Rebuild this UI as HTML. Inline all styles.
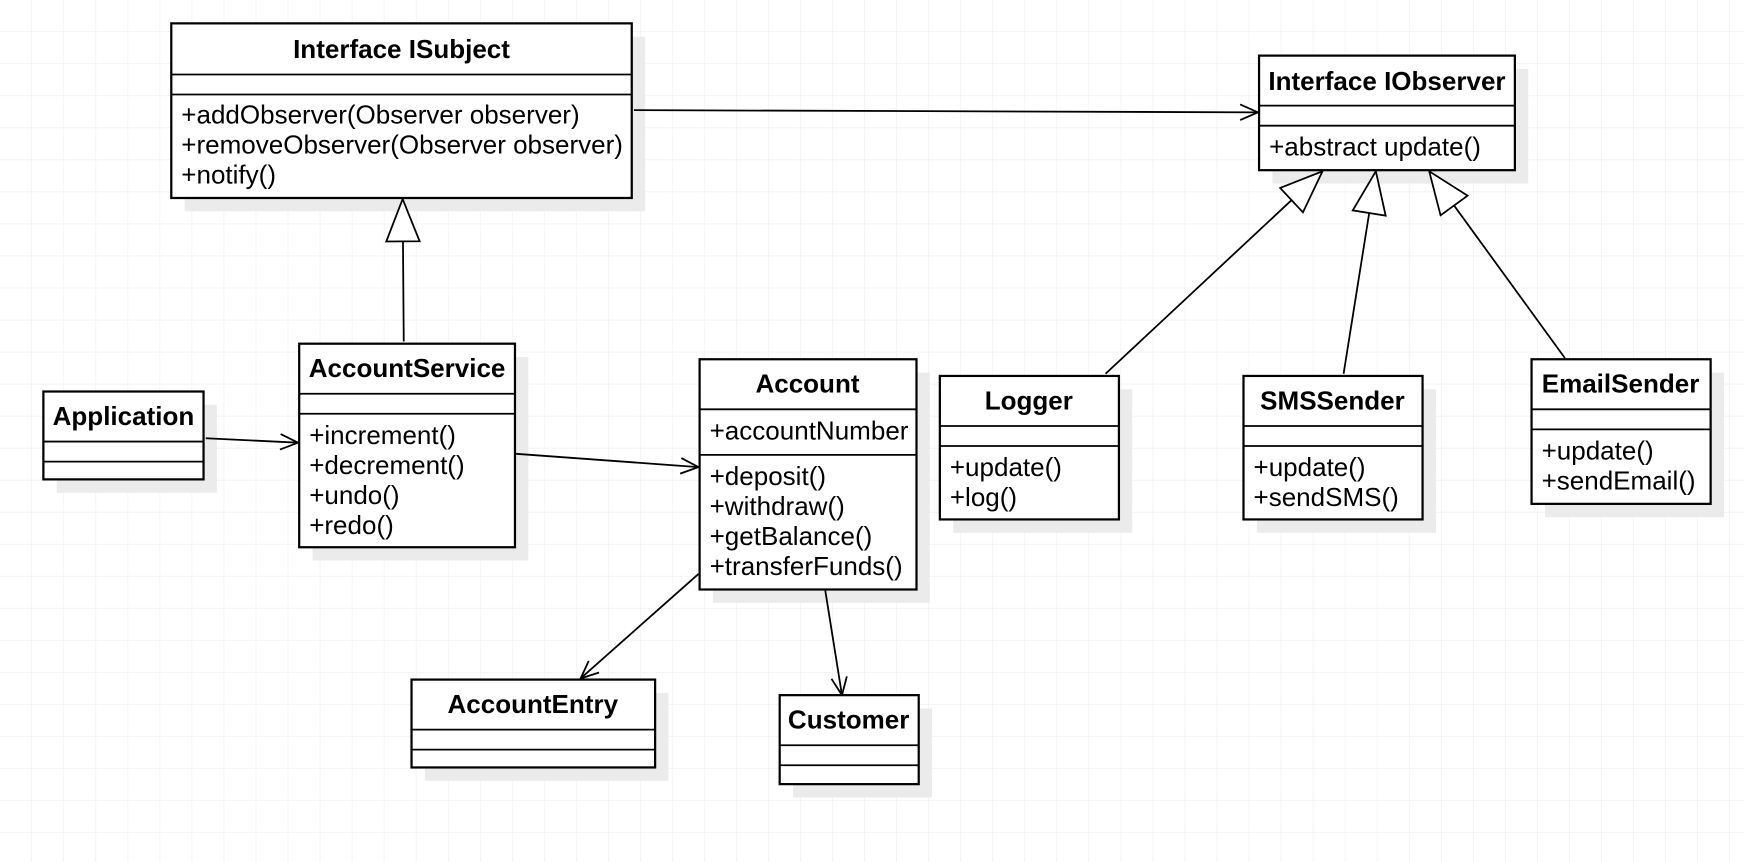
<!DOCTYPE html>
<html><head><meta charset="utf-8"><style>
html,body{margin:0;padding:0;background:#fff;}
svg{display:block;}
text{font-family:"Liberation Sans",Arial,sans-serif;fill:#000;}
.t{font-weight:bold;font-size:23.4px;text-anchor:middle;}
.m{font-size:23.4px;}
.b{fill:#fff;stroke:#000;stroke-width:2;}
.s{fill:#ebebeb;}
.l{stroke:#000;stroke-width:1.6;fill:none;}
</style></head><body>
<svg width="1744" height="862" viewBox="0 0 1568 775" xmlns="http://www.w3.org/2000/svg">
<defs>
<pattern id="g" width="28.8" height="28.8" patternUnits="userSpaceOnUse">
<path d="M28.8 0V28.8M0 28.8H28.8" stroke="#ececec" stroke-width="1" fill="none"/>
</pattern>
<marker id="oa" markerWidth="20" markerHeight="16" refX="17" refY="8" orient="auto" markerUnits="userSpaceOnUse">
<path d="M1 1L17 8L1 15" fill="none" stroke="#000" stroke-width="1.6"/>
</marker>
<marker id="tri" markerWidth="42" markerHeight="34" refX="40" refY="16" orient="auto" markerUnits="userSpaceOnUse">
<path d="M2 1L40 16L2 31Z" fill="#fff" stroke="#000" stroke-width="1.6"/>
</marker>
</defs>
<rect width="1568" height="775" fill="url(#g)"/>

<rect class="s" x="166" y="33" width="414" height="157"/>
<rect class="s" x="1144" y="62" width="230" height="103"/>
<rect class="s" x="51" y="364" width="144" height="79"/>
<rect class="s" x="281" y="321" width="194" height="183"/>
<rect class="s" x="641" y="335" width="195" height="207"/>
<rect class="s" x="857" y="350" width="161" height="129"/>
<rect class="s" x="1130" y="350" width="161" height="129"/>
<rect class="s" x="1389" y="335" width="161" height="130"/>
<rect class="s" x="382" y="623" width="219" height="79"/>
<rect class="s" x="713" y="637" width="125" height="80"/>

<line class="l" x1="570" y1="99" x2="1131" y2="101" marker-end="url(#oa)"/>
<line class="l" x1="363" y1="307" x2="362" y2="179" marker-end="url(#tri)"/>
<line class="l" x1="185" y1="394" x2="268" y2="398" marker-end="url(#oa)"/>
<line class="l" x1="464" y1="408" x2="628" y2="420" marker-end="url(#oa)"/>
<line class="l" x1="628" y1="516" x2="522" y2="610" marker-end="url(#oa)"/>
<line class="l" x1="742" y1="531" x2="757" y2="625" marker-end="url(#oa)"/>
<line class="l" x1="994" y1="336" x2="1189" y2="154" marker-end="url(#tri)"/>
<line class="l" x1="1208" y1="336" x2="1237" y2="154" marker-end="url(#tri)"/>
<line class="l" x1="1407" y1="322" x2="1285" y2="154" marker-end="url(#tri)"/>

<rect class="b" x="154" y="21" width="414" height="157"/>
<line class="l" stroke-width="2" x1="154" y1="67" x2="568" y2="67"/>
<line class="l" stroke-width="2" x1="154" y1="85" x2="568" y2="85"/>
<text class="t" x="361" y="52">Interface ISubject</text>
<text class="m" x="163" y="111">+addObserver(Observer observer)</text>
<text class="m" x="163" y="138">+removeObserver(Observer observer)</text>
<text class="m" x="163" y="165">+notify()</text>

<rect class="b" x="1132" y="50" width="230" height="103"/>
<line class="l" stroke-width="2" x1="1132" y1="95" x2="1362" y2="95"/>
<line class="l" stroke-width="2" x1="1132" y1="113" x2="1362" y2="113"/>
<text class="t" x="1247" y="81">Interface IObserver</text>
<text class="m" x="1141" y="140">+abstract update()</text>

<rect class="b" x="39" y="352" width="144" height="79"/>
<line class="l" stroke-width="2" x1="39" y1="397" x2="183" y2="397"/>
<line class="l" stroke-width="2" x1="39" y1="415" x2="183" y2="415"/>
<text class="t" x="111" y="382">Application</text>

<rect class="b" x="269" y="309" width="194" height="183"/>
<line class="l" stroke-width="2" x1="269" y1="354" x2="463" y2="354"/>
<line class="l" stroke-width="2" x1="269" y1="372" x2="463" y2="372"/>
<text class="t" x="366" y="339">AccountService</text>
<text class="m" x="278" y="399">+increment()</text>
<text class="m" x="278" y="426">+decrement()</text>
<text class="m" x="278" y="453">+undo()</text>
<text class="m" x="278" y="480">+redo()</text>

<rect class="b" x="629" y="323" width="195" height="207"/>
<line class="l" stroke-width="2" x1="629" y1="368" x2="824" y2="368"/>
<line class="l" stroke-width="2" x1="629" y1="409" x2="824" y2="409"/>
<text class="t" x="726" y="353">Account</text>
<text class="m" x="638" y="395">+accountNumber</text>
<text class="m" x="638" y="436">+deposit()</text>
<text class="m" x="638" y="463">+withdraw()</text>
<text class="m" x="638" y="490">+getBalance()</text>
<text class="m" x="638" y="517">+transferFunds()</text>

<rect class="b" x="845" y="338" width="161" height="129"/>
<line class="l" stroke-width="2" x1="845" y1="383" x2="1006" y2="383"/>
<line class="l" stroke-width="2" x1="845" y1="401" x2="1006" y2="401"/>
<text class="t" x="925" y="368">Logger</text>
<text class="m" x="854" y="428">+update()</text>
<text class="m" x="854" y="455">+log()</text>

<rect class="b" x="1118" y="338" width="161" height="129"/>
<line class="l" stroke-width="2" x1="1118" y1="383" x2="1279" y2="383"/>
<line class="l" stroke-width="2" x1="1118" y1="401" x2="1279" y2="401"/>
<text class="t" x="1198" y="368">SMSSender</text>
<text class="m" x="1127" y="428">+update()</text>
<text class="m" x="1127" y="455">+sendSMS()</text>

<rect class="b" x="1377" y="323" width="161" height="130"/>
<line class="l" stroke-width="2" x1="1377" y1="368" x2="1538" y2="368"/>
<line class="l" stroke-width="2" x1="1377" y1="386" x2="1538" y2="386"/>
<text class="t" x="1457" y="353">EmailSender</text>
<text class="m" x="1386" y="413">+update()</text>
<text class="m" x="1386" y="440">+sendEmail()</text>

<rect class="b" x="370" y="611" width="219" height="79"/>
<line class="l" stroke-width="2" x1="370" y1="656" x2="589" y2="656"/>
<line class="l" stroke-width="2" x1="370" y1="674" x2="589" y2="674"/>
<text class="t" x="479" y="641">AccountEntry</text>

<rect class="b" x="701" y="625" width="125" height="80"/>
<line class="l" stroke-width="2" x1="701" y1="670" x2="826" y2="670"/>
<line class="l" stroke-width="2" x1="701" y1="688" x2="826" y2="688"/>
<text class="t" x="763" y="655">Customer</text>
</svg>
</body></html>
